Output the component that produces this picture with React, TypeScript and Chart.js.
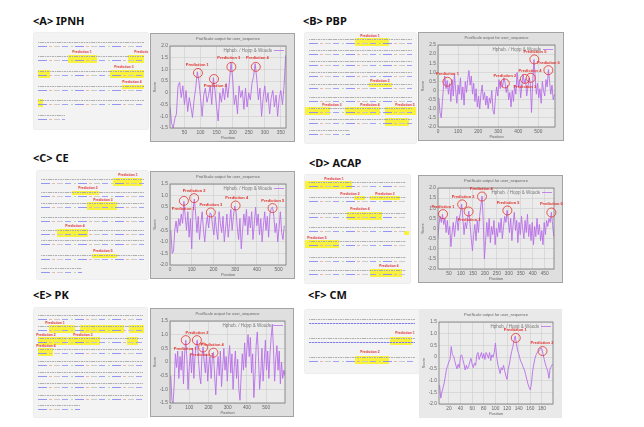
import React, { useEffect, useRef } from "react";
import { Chart, registerables } from "chart.js";
Chart.register(...registerables);

// ---------- DATA ----------
// <A> IPNH
const ipnhStart = 5;
const ipnhStep = 5;
const ipnhScores = [-0.6, -1.3, -1.5, -1.1, -0.9, 0.3, 0.45, -0.2, 0.3, -0.5, 0.1, -0.8, -0.2, -0.6, -1.05, -0.3, 0.2, 0.9, 0.5, -0.2, -1.0, -0.1, 0.2, -0.4, -0.1, 0.3, -0.5, 0.65, 0.1, -0.6, -1.2, 0.0, -0.4, 0.2, -0.3, 0.4, -0.2, 0.5, 1.3, 0.6, -0.5, -0.1, -0.9, 0.3, -0.2, 0.1, -0.7, 0.2, -0.6, 0.0, -0.3, 0.4, 0.7, 1.25, 0.6, -0.3, 0.2, -1.0, -0.2, 0.3, -0.4, 0.0, -0.9, -0.2, 0.1, -0.6, -0.1, -1.0, -0.2, 0.1, -0.5, 0.3, 1.6];
const ipnhXTicks = [50, 100, 150, 200, 250, 300, 350];
const ipnhYTicks = [-1.5, -1, -0.5, 0, 0.5, 1, 1.5, 2];
const ipnhPredPos = [92, 142, 196, 272];
const ipnhPredScore = [0.85, 0.59, 1.11, 1.11];
const ipnhLabelPos = [90, 146, 188, 277];
const ipnhLabelScore = [1.2, 0.28, 1.5, 1.5];

// <B> PBP
const pbpStart = 4;
const pbpStep = 6;
const pbpScores = [-0.4, -1.2, -1.5, -0.6, 0.3, 0.8, 0.1, 0.55, -0.2, 0.4, -0.6, 0.6, -0.3, 0.9, 0.0, -0.7, 0.3, -0.2, 0.7, -0.5, 0.2, -0.8, 0.5, -0.1, 0.6, 1.1, 0.3, 0.8, -0.2, 0.4, -0.6, 0.1, -0.9, -0.3, -1.0, -0.2, 0.3, -0.5, -0.1, -0.8, -0.3, -1.0, -0.4, -0.7, 0.0, -1.1, -1.3, -0.4, 0.2, -0.3, 0.6, 0.1, 0.5, 0.2, 0.7, 0.45, -0.1, 0.3, -0.5, -0.1, -0.9, 0.0, -0.6, 0.3, -0.2, 1.0, 0.2, 0.6, -0.4, 0.3, 0.9, 0.4, 0.65, -0.3, 0.2, 0.7, 0.4, -1.2, 0.5, 1.7, 0.8, -0.2, 0.4, -0.4, 0.1, -0.7, 0.5, 0.0, -0.3, 0.6, 0.2, 1.15, 0.5, -0.2, 0.3, -0.5, -0.2];
const pbpXTicks = [0, 100, 200, 300, 400, 500];
const pbpYTicks = [-2, -1.5, -1, -0.5, 0, 0.5, 1, 1.5, 2, 2.5];
const pbpPredPos = [47, 333, 433, 462, 480, 550];
const pbpPredScore = [0.48, 0.39, 0.64, 0.7, 1.71, 1.12];
const pbpLabelPos = [47, 333, 433, 458, 483, 550];
const pbpLabelScore = [0.92, 0.79, 0.2, 1.08, 2.1, 1.54];

// <C> CE
const ceStart = 4;
const ceStep = 6;
const ceScores = [-0.5, -1.5, -1.4, -0.5, -0.1, -0.6, 0.0, -0.3, 0.2, -0.2, 0.75, 0.1, -0.5, 0.3, -0.8, 0.0, -1.3, 0.4, 0.85, 0.2, -0.6, 0.1, -0.9, -0.2, 0.3, -0.5, -1.0, -0.3, 0.1, -0.4, 0.25, 0.2, -0.3, -0.7, 0.1, -0.5, -0.9, 0.3, -0.2, -0.6, 0.1, -1.0, -0.4, 0.2, -0.8, -0.2, 0.4, -0.5, 0.1, 0.55, 0.3, -0.4, -0.9, 0.0, -1.3, -0.5, 0.2, -0.3, 0.4, -0.7, 0.1, -0.4, 0.3, -0.9, -0.2, 0.5, -0.3, 0.2, -0.7, 0.0, -1.0, -0.3, 0.3, -0.5, 0.1, -0.8, 0.2, 0.45, 0.5, 0.1, -0.6, -0.2, -1.0, -0.4, 0.3, -0.6, -0.9, -0.3];
const ceXTicks = [0, 100, 200, 300, 400, 500];
const ceYTicks = [-2, -1.5, -1, -0.5, 0, 0.5, 1, 1.5];
const cePredPos = [64, 111, 188, 302, 472];
const cePredScore = [0.77, 0.89, 0.27, 0.57, 0.46];
const ceLabelPos = [61, 111, 188, 307, 473];
const ceLabelScore = [0.43, 1.19, 0.61, 0.9, 0.79];

// <D> ACAP
const acapStart = 3;
const acapStep = 5;
const acapScores = [-0.5, 0.2, 0.6, 0.3, 0.7, 0.2, 0.5, -0.2, 0.4, -0.3, 0.1, -0.9, -0.2, 0.3, -0.4, 0.2, 0.6, -0.1, 0.5, 0.8, 1.2, 0.5, -0.3, 0.3, 0.0, 0.5, 0.85, 0.2, -0.5, -1.1, -0.3, 0.2, -0.6, 0.4, -0.2, 0.6, 1.1, 1.6, 0.4, -1.5, -0.6, 0.3, -0.4, 0.5, -0.7, 0.1, -0.3, 0.4, -0.8, 0.0, -0.4, 0.3, -0.2, 0.5, -0.5, 0.1, 0.6, 0.3, 0.9, 0.4, -0.2, 0.5, -0.6, 0.2, 0.8, -0.1, 0.4, -0.7, 0.3, -0.3, 0.6, 0.0, -0.5, 0.4, -0.2, 0.7, -0.4, 0.2, -0.6, 0.3, -0.8, 0.1, -0.4, 0.5, -0.3, 0.2, -0.6, -0.1, -0.8, 0.3, -0.3, 0.4, 0.1, 0.5, 0.3, 0.8, 0.2, -0.4];
const acapXTicks = [50, 100, 150, 200, 250, 300, 350, 400, 450];
const acapYTicks = [-2, -1.5, -1, -0.5, 0, 0.5, 1, 1.5, 2];
const acapPredPos = [25, 105, 132, 188, 294, 478];
const acapPredScore = [0.71, 1.19, 0.84, 1.58, 0.89, 0.79];
const acapLabelPos = [25, 109, 134, 185, 297, 478];
const acapLabelScore = [1.05, 1.55, 0.43, 1.94, 1.28, 1.2];

// <E> PK
const pkStart = 4;
const pkStep = 6;
const pkScores = [-0.5, -1.4, -1.5, -0.8, 0.3, -0.2, 0.4, -0.6, 0.2, -0.3, 0.4, -0.8, 0.3, 0.8, 0.1, -1.0, -0.2, 0.3, -0.4, 0.5, -0.6, 0.2, 0.6, 0.8, 0.1, -0.5, -0.8, 0.2, 0.55, 0.0, -0.4, 0.3, -0.7, -0.1, 0.2, -0.6, 0.1, 0.35, -0.5, -1.2, -0.3, 0.2, -0.5, 0.4, -0.9, -0.2, 0.5, -0.3, 0.2, -0.7, 0.1, 0.6, -0.4, 0.3, -1.0, -0.2, 0.4, -0.6, 0.1, -1.0, -1.4, -0.5, 0.3, -0.3, 0.7, -0.2, 0.5, 1.0, 0.2, 0.9, -0.4, 0.3, -1.3, -0.5, 0.6, 1.1, 0.2, -1.0, -0.4, 0.5, -0.7, 0.0, 0.8, -0.3, 0.4, -0.6, 0.3, 0.9, 1.38, 0.5, -0.7, 0.1, 0.6, -0.3, 0.4, -0.8, 0.0, -0.6, -0.3, -0.5];
const pkXTicks = [0, 100, 200, 300, 400, 500];
const pkYTicks = [-1.5, -1, -0.5, 0, 0.5, 1, 1.5];
const pkPredPos = [82, 140, 172, 226];
const pkPredScore = [0.8, 0.8, 0.53, 0.34];
const pkLabelPos = [79, 140, 165, 220];
const pkLabelScore = [0.49, 1.06, 0.27, 0.64];

// <F> CM
const cmStart = 4;
const cmStep = 2;
const cmScores = [-1.2, -1.75, -1.5, -1.3, -1.1, -0.8, -0.5, -0.35, -0.2, -0.1, 0.45, 0.1, 0.05, -0.15, -0.35, -0.5, -0.3, -0.45, 0.05, 0.1, -0.1, -0.3, -0.55, -0.35, -0.5, -0.4, -0.2, -0.05, -0.3, -0.45, -0.25, -0.35, 0.1, 0.2, -0.1, 0.05, 0.2, -0.05, 0.15, -0.1, 0.2, 0.1, -0.05, 0.2, -0.15, 0.1, 0.0, 0.2, 0.6, 0.05, -0.3, -0.5, -0.7, -0.45, -0.55, -0.35, -0.6, -0.8, -0.95, -0.5, -0.3, 0.0, 0.25, 0.45, 0.7, 0.9, 0.6, 0.3, 0.15, -0.05, -0.2, -0.3, -0.45, -0.55, -0.75, -0.95, -1.15, -1.3, -1.4, -1.1, -0.6, -0.3, -0.05, 0.1, 0.2, 0.25, 0.3, 0.4, 0.35, 0.1, -0.1, -0.3, -0.45, -0.6, -0.9, -0.5, -0.4, -0.3];
const cmXTicks = [20, 40, 60, 80, 100, 120, 140, 160, 180];
const cmYTicks = [-2, -1.5, -1, -0.5, 0, 0.5, 1, 1.5];
const cmPredPos = [135, 181];
const cmPredScore = [0.82, 0.26];
const cmLabelPos = [134, 180];
const cmLabelScore = [1.15, 0.59];

const chartTitle = "ProtScale output for user_sequence";
const legendText = "Hphob. / Hopp & Woods";
const xTitle = "Position";
const yTitle = "Score";

// ---------- STYLE ----------
const LINE = "#b86ee8";
const RED = "#e2322c";
const FONT = '"Liberation Sans", "DejaVu Sans", sans-serif';

type Pred = { x: number; y: number; lx: number; ly: number; t: string };

function makePreds(px: number[], py: number[], lx: number[], ly: number[]): Pred[] {
  return px.map((x, i) => ({ x, y: py[i], lx: lx[i], ly: ly[i], t: "Prediction " + (i + 1) }));
}

type ChartProps = {
  left: number; top: number; w: number; h: number;
  start: number; step: number; scores: number[];
  xMin: number; xMax: number; xTicks: number[];
  yMin: number; yMax: number; yTicks: number[];
  preds: Pred[]; boxBg?: string; border?: boolean;
};

function ProtChart(p: ChartProps) {
  const ref = useRef<HTMLCanvasElement>(null);
  useEffect(() => {
    const data = p.scores.map((v, i) => ({ x: p.start + i * p.step, y: v }));
    const boxBg = p.boxBg || "#dfdfdf";
    const decor = {
      id: "decor",
      beforeDraw(c: any) {
        const ctx = c.ctx;
        const a = c.chartArea;
        ctx.save();
        ctx.fillStyle = boxBg;
        ctx.fillRect(0, 0, c.width, c.height);
        ctx.fillStyle = "#ebebeb";
        ctx.fillRect(a.left, a.top, a.right - a.left, a.bottom - a.top);
        ctx.restore();
      },
      afterDraw(c: any) {
        const ctx = c.ctx;
        const a = c.chartArea;
        const xs = c.scales.x;
        const ys = c.scales.y;
        ctx.save();
        ctx.strokeStyle = "#777";
        ctx.lineWidth = 0.8;
        ctx.strokeRect(a.left, a.top, a.right - a.left, a.bottom - a.top);
        if (p.border !== false) {
          ctx.strokeStyle = "#a3a3a3";
          ctx.lineWidth = 1;
          ctx.strokeRect(0.5, 0.5, c.width - 1, c.height - 1);
        }
        ctx.fillStyle = "#666";
        ctx.textAlign = "center";
        ctx.textBaseline = "middle";
        ctx.font = "4px " + FONT;
        ctx.fillText(chartTitle, (a.left + a.right) / 2, 6);
        ctx.fillText(xTitle, (a.left + a.right) / 2, c.height - 4);
        ctx.save();
        ctx.translate(4.5, (a.top + a.bottom) / 2);
        ctx.rotate(-Math.PI / 2);
        ctx.fillText(yTitle, 0, 0);
        ctx.restore();
        // legend
        ctx.textAlign = "right";
        ctx.font = "4.5px " + FONT;
        ctx.fillStyle = "#777";
        ctx.fillText(legendText, a.right - 14, a.top + 4.5);
        ctx.strokeStyle = LINE;
        ctx.lineWidth = 0.8;
        ctx.beginPath();
        ctx.moveTo(a.right - 12, a.top + 4.5);
        ctx.lineTo(a.right - 2, a.top + 4.5);
        ctx.stroke();
        // predictions
        ctx.strokeStyle = RED;
        ctx.fillStyle = RED;
        ctx.lineWidth = 0.8;
        ctx.textAlign = "center";
        ctx.font = "bold 4px " + FONT;
        p.preds.forEach((q) => {
          const cx = xs.getPixelForValue(q.x);
          const cy = ys.getPixelForValue(q.y);
          ctx.beginPath();
          ctx.arc(cx, cy, 4.5, 0, Math.PI * 2);
          ctx.stroke();
          ctx.fillText(q.t, xs.getPixelForValue(q.lx), ys.getPixelForValue(q.ly));
        });
        ctx.restore();
      },
    };
    const tickFont = { size: 4.8, family: FONT };
    const chart = new Chart(ref.current as HTMLCanvasElement, {
      type: "line",
      data: {
        datasets: [
          {
            data,
            borderColor: LINE,
            borderWidth: 0.9,
            pointRadius: 0,
            tension: 0,
            fill: false,
          },
        ],
      },
      options: {
        animation: false,
        responsive: false,
        events: [],
        layout: { padding: { left: 0, right: 9, top: 13, bottom: 0 } },
        plugins: { legend: { display: false }, title: { display: false }, tooltip: { enabled: false } },
        scales: {
          x: {
            type: "linear",
            min: p.xMin,
            max: p.xMax,
            afterBuildTicks: (ax: any) => {
              ax.ticks = p.xTicks.map((v) => ({ value: v }));
            },
            afterFit: (ax: any) => {
              ax.height = 14;
            },
            grid: { color: "#cdcdcd", lineWidth: 0.6, drawTicks: false },
            border: { display: false },
            ticks: { font: tickFont, color: "#666", padding: 2, maxRotation: 0, autoSkip: false },
          },
          y: {
            type: "linear",
            min: p.yMin,
            max: p.yMax,
            afterBuildTicks: (ax: any) => {
              ax.ticks = p.yTicks.map((v) => ({ value: v }));
            },
            afterFit: (ax: any) => {
              ax.width = 20;
            },
            grid: { color: "#cdcdcd", lineWidth: 0.6, drawTicks: false },
            border: { display: false },
            ticks: { font: tickFont, color: "#666", padding: 2, autoSkip: false },
          },
        },
      } as any,
      plugins: [decor],
    });
    return () => chart.destroy();
  }, []);
  return (
    <canvas
      ref={ref}
      width={p.w}
      height={p.h}
      style={{ position: "absolute", left: p.left, top: p.top, width: p.w, height: p.h }}
    />
  );
}

// ---------- sequence text boxes (decorative) ----------
const SEQ_BG = "repeating-linear-gradient(90deg,#9a9a9a 0 1.1px,#d6d6d6 1.1px 1.7px)";
const ANNOT_BG =
  "repeating-linear-gradient(90deg,#8a8af2 0 9px,transparent 9px 11px,#eab0a2 11px 14px,transparent 14px 16px,#c6c6c6 16px 22px,transparent 22px 24px,#9a9af5 24px 30px,transparent 30px 33px,#a8d8a8 33px 35px,transparent 35px 37px)";
const DENSE_BG = "repeating-linear-gradient(90deg,#7474ea 0 2px,#bdbdf4 2px 3px)";

type BoxProps = {
  left: number; top: number; w: number; h: number;
  rows: number[][]; marks: number[][]; labels: [number, number, string][]; dense?: boolean[];
};

function SeqBox(b: BoxProps) {
  return (
    <div
      style={{
        position: "absolute", left: b.left, top: b.top, width: b.w, height: b.h,
        background: "#f3f3f3", boxShadow: "0 0 1.5px 0 #bdbdbd", overflow: "hidden",
      }}
    >
      {b.marks.map((m, i) => (
        <div key={"m" + i} style={{ position: "absolute", left: m[1], top: m[0], width: m[2] - m[1], height: m[3], background: "#f9f23c" }} />
      ))}
      {b.rows.map((r, i) => {
        const lw = (b.w - 8) * (r[1] === undefined ? 1 : r[1]);
        return (
          <React.Fragment key={"r" + i}>
            <div style={{ position: "absolute", left: 4, top: r[0], width: lw, height: 1.2, background: SEQ_BG, opacity: 0.75 }} />
            <div style={{ position: "absolute", left: 4, top: r[0] + 4, width: lw, height: 1.3, background: b.dense && b.dense[i] ? DENSE_BG : ANNOT_BG, opacity: 0.9 }} />
          </React.Fragment>
        );
      })}
      {b.labels.map((l, i) => (
        <div
          key={"l" + i}
          style={{
            position: "absolute", left: l[0], top: l[1], transform: "translateX(-50%)", whiteSpace: "nowrap",
            fontFamily: FONT, fontWeight: 700, fontSize: 3.4, lineHeight: "4px", color: RED,
          }}
        >
          {l[2]}
        </div>
      ))}
    </div>
  );
}

function Heading({ left, top, text }: { left: number; top: number; text: string }) {
  return (
    <div
      style={{
        position: "absolute", left, top, fontFamily: '"Noto Sans", "DejaVu Sans", sans-serif',
        fontWeight: 700, fontSize: 11, lineHeight: "14px", color: "#111", whiteSpace: "nowrap",
      }}
    >
      {text}
    </div>
  );
}

export default function App() {
  return (
    <div style={{ position: "absolute", left: 0, top: 0, width: 644, height: 427, background: "#fff", overflow: "hidden" }}>
      <Heading left={33} top={14} text="<A> IPNH" />
      <Heading left={303} top={14} text="<B> PBP" />
      <Heading left={33} top={151} text="<C> CE" />
      <Heading left={309} top={156} text="<D> ACAP" />
      <Heading left={33} top={288} text="<E> PK" />
      <Heading left={308} top={288} text="<F> CM" />

      <SeqBox
        left={34} top={33} w={114} h={96}
        rows={[[9], [23], [38], [53], [67], [82, 0.25]]}
        marks={[[22, 34, 63, 8], [22, 94, 110, 8], [37, 4, 16, 8], [37, 76, 110, 8], [52, 88, 110, 4], [66, 4, 9, 8]]}
        labels={[[48, 17, "Prediction 1"], [110, 17, "Prediction 2"], [90, 32, "Prediction 3"], [98, 47, "Prediction 4"]]}
      />
      <SeqBox
        left={305} top={33} w={111} h={110}
        rows={[[6], [17], [28], [39], [51], [64], [75], [86], [97, 0.4]]}
        marks={[[5, 50, 84, 8], [50, 64, 87, 4], [74, 0, 25, 8], [74, 40, 75, 8], [74, 80, 111, 8], [85, 80, 104, 8]]}
        labels={[[65, 1, "Prediction 1"], [75, 46, "Prediction 2"], [27, 70, "Prediction 3"], [65, 70, "Prediction 4"], [100, 70, "Prediction 5"]]}
      />
      <SeqBox
        left={37} top={171} w={111} h={108}
        rows={[[8], [21], [32], [46], [59], [69], [84], [97, 0.4]]}
        marks={[[7, 76, 105, 8], [20, 35, 62, 4], [31, 50, 80, 8], [58, 20, 51, 8], [83, 55, 80, 4]]}
        labels={[[91, 2, "Prediction 1"], [51, 15, "Prediction 2"], [66, 27, "Prediction 3"], [38, 53, "Prediction 4"], [66, 78, "Prediction 5"]]}
      />
      <SeqBox
        left={305} top={175} w={105} h={108}
        rows={[[7], [22], [38], [52], [66], [82], [95]]}
        marks={[[6, 0, 47, 8], [21, 49, 60, 4], [21, 65, 95, 4], [37, 42, 77, 8], [56, 99, 104, 4], [65, 0, 34, 8], [94, 65, 97, 8]]}
        labels={[[29, 2, "Prediction 1"], [45, 17, "Prediction 2"], [80, 17, "Prediction 3"], [55, 32, "Prediction 4"], [12, 61, "Prediction 5"], [84, 89, "Prediction 6"]]}
      />
      <SeqBox
        left={34} top={308} w={113} h={109}
        rows={[[7], [18], [30], [41], [53], [64], [75], [87], [97, 0.4]]}
        marks={[[17, 15, 41, 8], [17, 46, 90, 8], [17, 95, 110, 8], [29, 4, 33, 8], [29, 34, 66, 8], [29, 93, 104, 8], [40, 4, 19, 8]]}
        labels={[[21, 13, "Prediction 1"], [12, 25, "Prediction 2"], [49, 25, "Prediction 3"], [12, 36, "Prediction 4"]]}
      />
      <SeqBox
        left={305} top={310} w={114} h={63}
        rows={[[9], [28], [47]]}
        dense={[true, true, false]}
        marks={[[27, 85, 107, 8], [46, 50, 84, 8]]}
        labels={[[100, 21, "Prediction 1"], [65, 40, "Prediction 2"]]}
      />

      <ProtChart left={150} top={33} w={145} h={109} start={ipnhStart} step={ipnhStep} scores={ipnhScores}
        xMin={5} xMax={366} xTicks={ipnhXTicks} yMin={-1.5} yMax={2} yTicks={ipnhYTicks}
        preds={makePreds(ipnhPredPos, ipnhPredScore, ipnhLabelPos, ipnhLabelScore)} />
      <ProtChart left={418} top={32} w={146} h={109} start={pbpStart} step={pbpStep} scores={pbpScores}
        xMin={0} xMax={583} xTicks={pbpXTicks} yMin={-2} yMax={2.5} yTicks={pbpYTicks}
        preds={makePreds(pbpPredPos, pbpPredScore, pbpLabelPos, pbpLabelScore)} />
      <ProtChart left={150} top={171} w={145} h={108} start={ceStart} step={ceStep} scores={ceScores}
        xMin={0} xMax={534} xTicks={ceXTicks} yMin={-2} yMax={1.5} yTicks={ceYTicks}
        preds={makePreds(cePredPos, cePredScore, ceLabelPos, ceLabelScore)} />
      <ProtChart left={418} top={175} w={145} h={108} start={acapStart} step={acapStep} scores={acapScores}
        xMin={4} xMax={489} xTicks={acapXTicks} yMin={-2} yMax={2} yTicks={acapYTicks}
        preds={makePreds(acapPredPos, acapPredScore, acapLabelPos, acapLabelScore)} />
      <ProtChart left={150} top={308} w={144} h={109} start={pkStart} step={pkStep} scores={pkScores}
        xMin={0} xMax={598} xTicks={pkXTicks} yMin={-1.5} yMax={1.5} yTicks={pkYTicks}
        preds={makePreds(pkPredPos, pkPredScore, pkLabelPos, pkLabelScore)} />
      <ProtChart left={419} top={309} w={143} h={109} start={cmStart} step={cmStep} scores={cmScores}
        xMin={3} xMax={199} xTicks={cmXTicks} yMin={-2} yMax={1.5} yTicks={cmYTicks}
        preds={makePreds(cmPredPos, cmPredScore, cmLabelPos, cmLabelScore)} boxBg="#e9e9e9" border={false} />
    </div>
  );
}
